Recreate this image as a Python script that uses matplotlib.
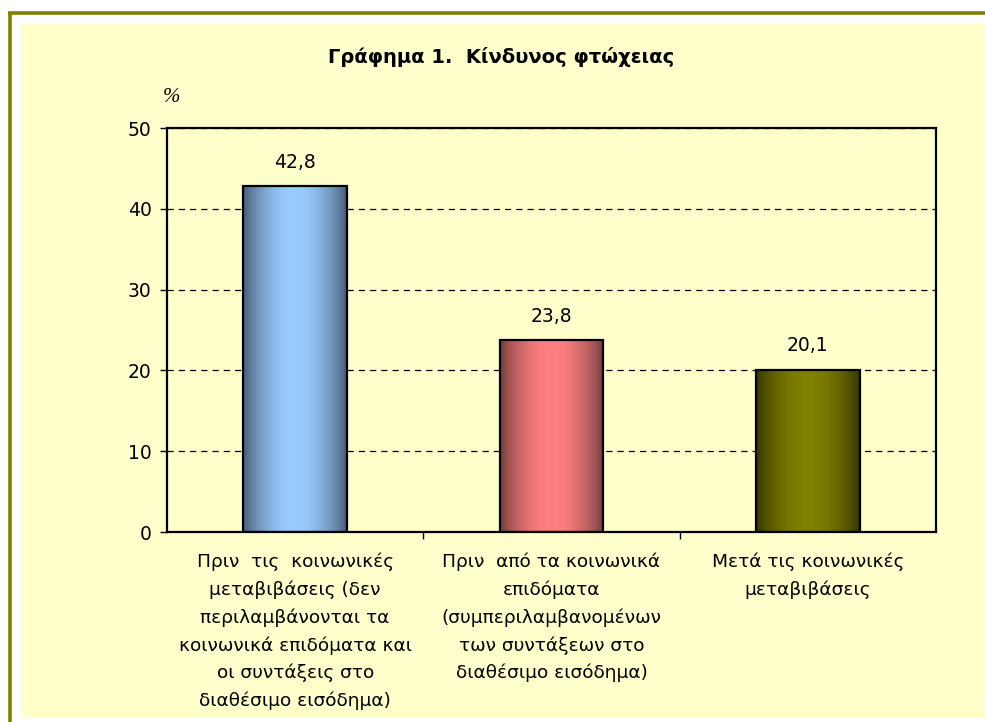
import numpy as np
import matplotlib
matplotlib.use("Agg")
import matplotlib.pyplot as plt
from matplotlib.patches import Rectangle
from matplotlib.lines import Line2D
from matplotlib.colors import to_rgb

# ---- data ----
categories = [
    "Πριν  τις  κοινωνικές\nμεταβιβάσεις (δεν\nπεριλαμβάνονται τα\nκοινωνικά επιδόματα και\nοι συντάξεις στο\nδιαθέσιμο εισόδημα)",
    "Πριν  από τα κοινωνικά\nεπιδόματα\n(συμπεριλαμβανομένων\nτων συντάξεων στο\nδιαθέσιμο εισόδημα)",
    "Μετά τις κοινωνικές\nμεταβιβάσεις",
]
values = [42.8, 23.8, 20.1]
light_colors = ["#99CCFF", "#FF8080", "#808000"]
dark_colors = ["#45586F", "#6E3A3A", "#333300"]
yticks = [0, 10, 20, 30, 40, 50]
title = "Γράφημα 1.  Κίνδυνος φτώχειας"
unit_label = "%"

plt.rcParams['font.family'] = ['DejaVu Sans']

W, H = 985, 722
fig = plt.figure(figsize=(W / 100, H / 100), dpi=100)
fig.patch.set_facecolor("white")

bg = "#FFFFCC"
olive = "#808000"
# yellow panel
fig.patches.append(Rectangle((21 / W, 1 - 717 / H), 1 - 21 / W, (717 - 24) / H,
                             transform=fig.transFigure, facecolor=bg, edgecolor="none", zorder=-5))
# olive border lines (top and left)
fig.lines.append(Line2D([8 / W, 1], [1 - 12.8 / H, 1 - 12.8 / H], transform=fig.transFigure,
                        color=olive, lw=2.6, solid_capstyle="butt", zorder=-4))
fig.lines.append(Line2D([10 / W, 10 / W], [1 - 11.5 / H, 0], transform=fig.transFigure,
                        color=olive, lw=2.6, solid_capstyle="butt", zorder=-4))

ax = fig.add_axes([167 / W, 1 - 532 / H, (936 - 167) / W, (532 - 128) / H])
ax.set_zorder(1)
ax.set_facecolor(bg)
x = np.arange(len(values))
bars = ax.bar(x, values, width=0.405, facecolor="none", edgecolor="black", linewidth=1.6, zorder=3)

# gradient fills
t = np.linspace(0, 1, 256)
f = np.sin(np.pi * t) ** 0.8
for b, lc, dc in zip(bars, light_colors, dark_colors):
    lc = np.array(to_rgb(lc)); dc = np.array(to_rgb(dc))
    img = dc[None, :] + (lc - dc)[None, :] * f[:, None]
    img = img[None, :, :]
    x0, w, h = b.get_x(), b.get_width(), b.get_height()
    ax.imshow(img, extent=[x0, x0 + w, 0, h], aspect="auto", zorder=2, interpolation="bilinear")
ax.set_xlim(-0.5, len(values) - 0.5)
ax.set_ylim(0, 50)

# gridlines
ax.set_yticks(yticks)
ax.yaxis.grid(True, linestyle=(0, (5, 4)), color="black", linewidth=0.9, zorder=1)
ax.set_axisbelow(True)

for s in ax.spines.values():
    s.set_linewidth(1.6)
    s.set_color("black")

ax.tick_params(axis="y", direction="out", length=5, width=1, labelsize=13.5, pad=6)
ax.set_xticks(x)
ax.set_xticklabels(categories, fontsize=13.3, linespacing=1.64, va="top")
ax.tick_params(axis="x", length=0, pad=15)
ax.set_xticks(np.arange(len(values) - 1) + 0.5, minor=True)
ax.tick_params(axis="x", which="minor", direction="out", length=5, width=1)

for b, v in zip(bars, values):
    ax.annotate(f"{v:.1f}".replace(".", ","), (b.get_x() + b.get_width() / 2, b.get_height()),
                xytext=(0, 17), textcoords="offset points", ha="center", va="center", fontsize=13.5)

fig.text(501 / W, 1 - 57 / H, title, ha="center", va="center", fontsize=14, fontweight="bold")
fig.text(172 / W, 1 - 97 / H, unit_label, ha="center", va="center", fontsize=15,
         family="Liberation Serif", style="italic")

fig.savefig("out.png", dpi=100, facecolor=fig.get_facecolor())
